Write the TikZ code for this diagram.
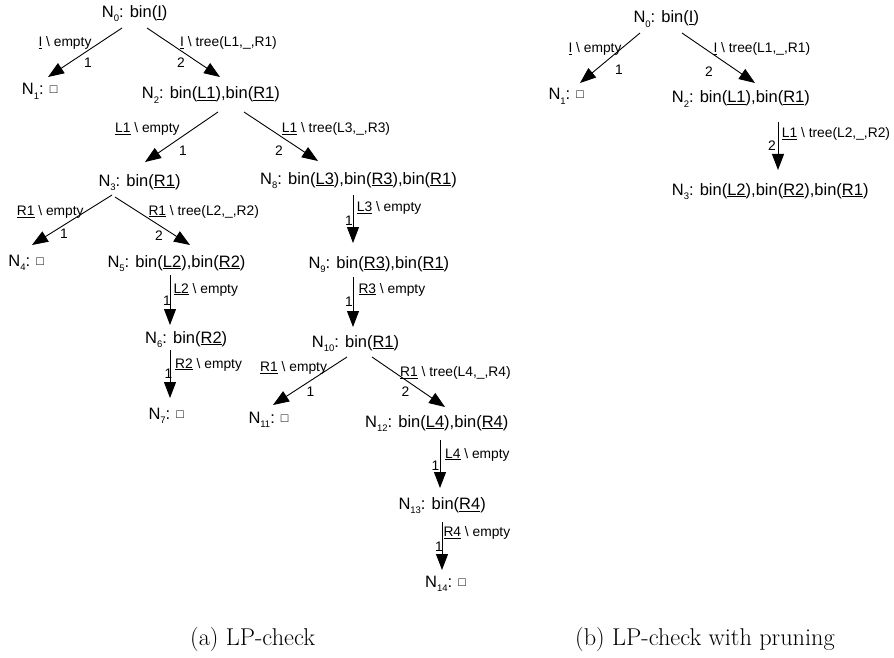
\documentclass[tikz,border=0pt]{standalone}
\usepackage{fontspec}
\setsansfont{Liberation Sans}
\usepackage{tikz}
\usetikzlibrary{arrows.meta}
\newcommand{\Nd}[1]{N\raisebox{-4.4pt}{\fontsize{9.5}{9.5}\selectfont #1}}
\newcommand{\bs}{\textbackslash}
\newcommand{\sq}{\raisebox{1pt}{\fontsize{12.5}{12.5}\selectfont □}}

\begin{document}
\begin{tikzpicture}[
  x=1pt, y=-1pt,
  state/.style={font=\sffamily\fontsize{16.5}{18}\selectfont, inner sep=0pt, anchor=base west},
  lbl/.style={font=\sffamily\fontsize{13.8}{15}\selectfont, inner sep=0pt, anchor=base west},
  arrow/.style={-{Triangle[length=16pt,width=12pt]}, line width=0.9pt},
  subcap/.style={font=\fontsize{24.3}{28}\selectfont, inner sep=0pt, anchor=base west},
]
  \useasboundingbox (0,0) rectangle (894,658);

  \node[state] (n0) at (101.7,17.5) {\Nd{0}: bin(\underline{I})};
  \node[state] (n1) at (21.7,95) {\Nd{1}: \sq};
  \node[state] (n2) at (141.7,99) {\Nd{2}: bin(\underline{L1}),bin(\underline{R1})};
  \node[state] (n3) at (98.3,186) {\Nd{3}: bin(\underline{R1})};
  \node[state] (n8) at (260,184) {\Nd{8}: bin(\underline{L3}),bin(\underline{R3}),bin(\underline{R1})};
  \node[state] (n4) at (8.3,266) {\Nd{4}: \sq};
  \node[state] (n5) at (107.3,267) {\Nd{5}: bin(\underline{L2}),bin(\underline{R2})};
  \node[state] (n9) at (308.3,268) {\Nd{9}: bin(\underline{R3}),bin(\underline{R1})};
  \node[state] (n6) at (145,343) {\Nd{6}: bin(\underline{R2})};
  \node[state] (n10) at (311.7,347) {\Nd{10}: bin(\underline{R1})};
  \node[state] (n7) at (148.3,419) {\Nd{7}: \sq};
  \node[state] (n11) at (248.3,423) {\Nd{11}: \sq};
  \node[state] (n12) at (365,427) {\Nd{12}: bin(\underline{L4}),bin(\underline{R4})};
  \node[state] (n13) at (398.3,509.5) {\Nd{13}: bin(\underline{R4})};
  \node[state] (n14) at (425,587.5) {\Nd{14}: \sq};

  \node[state] (r0) at (633.3,23) {\Nd{0}: bin(\underline{I})};
  \node[state] (r1) at (548.3,100) {\Nd{1}: \sq};
  \node[state] (r2) at (671.7,103) {\Nd{2}: bin(\underline{L1}),bin(\underline{R1})};
  \node[state] (r3) at (671.7,195) {\Nd{3}: bin(\underline{L2}),bin(\underline{R2}),bin(\underline{R1})};

  \draw[arrow] ([shift={(20.3,10.5)}]n0.base west) -- ([shift={(26.3,-18)}]n1.base west);
  \draw[arrow] ([shift={(45.3,10.5)}]n0.base west) -- ([shift={(78.3,-22)}]n2.base west);
  \draw[arrow] ([shift={(76.3,13)}]n2.base west) -- ([shift={(46.7,-24)}]n3.base west);
  \draw[arrow] ([shift={(102.3,13)}]n2.base west) -- ([shift={(58,-23)}]n8.base west);
  \draw[arrow] ([shift={(13.7,9)}]n3.base west) -- ([shift={(23.7,-21)}]n4.base west);
  \draw[arrow] ([shift={(16.7,11)}]n3.base west) -- ([shift={(82.7,-22)}]n5.base west);
  \draw[arrow] ([shift={(62.7,8)}]n5.base west) -- ([shift={(25,-18)}]n6.base west);
  \draw[arrow] ([shift={(25,7)}]n6.base west) -- ([shift={(21.7,-21)}]n7.base west);
  \draw[arrow] ([shift={(93,11)}]n8.base west) -- ([shift={(44.7,-25)}]n9.base west);
  \draw[arrow] ([shift={(44.7,9)}]n9.base west) -- ([shift={(41.3,-20)}]n10.base west);
  \draw[arrow] ([shift={(35.3,10)}]n10.base west) -- ([shift={(24.7,-18)}]n11.base west);
  \draw[arrow] ([shift={(60.3,10)}]n10.base west) -- ([shift={(80,-20)}]n12.base west);
  \draw[arrow] ([shift={(75,13)}]n12.base west) -- ([shift={(41.7,-21.5)}]n13.base west);
  \draw[arrow] ([shift={(43.7,12.5)}]n13.base west) -- ([shift={(17,-17.5)}]n14.base west);

  \draw[arrow] ([shift={(6.7,10)}]r0.base west) -- ([shift={(31.7,-17)}]r1.base west);
  \draw[arrow] ([shift={(48.7,10)}]r0.base west) -- ([shift={(83.3,-20)}]r2.base west);
  \draw[arrow] ([shift={(106.3,19)}]r2.base west) -- ([shift={(106.3,-25)}]r3.base west);

  \node[lbl] (e01) at (38.3,47) {\underline{I} \bs{} empty};
  \node[lbl] (k01) at (84,67.5) {1};
  \node[lbl] (e02) at (180,47) {\underline{I} \bs{} tree(L1,\_,R1)};
  \node[lbl] (k02) at (177,67.5) {2};
  \node[lbl] (e23) at (115,133) {\underline{L1} \bs{} empty};
  \node[lbl] (k23) at (179,155) {1};
  \node[lbl] (e28) at (281.7,133) {\underline{L1} \bs{} tree(L3,\_,R3)};
  \node[lbl] (k28) at (275,155) {2};
  \node[lbl] (e34) at (16.7,215.5) {\underline{R1} \bs{} empty};
  \node[lbl] (k34) at (60,238) {1};
  \node[lbl] (e35) at (148.3,215) {\underline{R1} \bs{} tree(L2,\_,R2)};
  \node[lbl] (k35) at (155,240) {2};
  \node[lbl] (e56) at (173.3,293) {\underline{L2} \bs{} empty};
  \node[lbl] (k56) at (163,305) {1};
  \node[lbl] (e67) at (175,368) {\underline{R2} \bs{} empty};
  \node[lbl] (k67) at (164.5,378) {1};
  \node[lbl] (e89) at (356.7,211.5) {\underline{L3} \bs{} empty};
  \node[lbl] (k89) at (345,225) {1};
  \node[lbl] (e910) at (358.3,293) {\underline{R3} \bs{} empty};
  \node[lbl] (k910) at (345,306.5) {1};
  \node[lbl] (e1011) at (260,371.5) {\underline{R1} \bs{} empty};
  \node[lbl] (k1011) at (306.5,396.5) {1};
  \node[lbl] (e1012) at (400,376.5) {\underline{R1} \bs{} tree(L4,\_,R4)};
  \node[lbl] (k1012) at (401.5,396.5) {2};
  \node[lbl] (e1213) at (445,458) {\underline{L4} \bs{} empty};
  \node[lbl] (k1213) at (431.5,470) {1};
  \node[lbl] (e1314) at (443.3,536.5) {\underline{R4} \bs{} empty};
  \node[lbl] (k1314) at (435,551.5) {1};

  \node[lbl] (f01) at (568.3,53) {\underline{I} \bs{} empty};
  \node[lbl] (j01) at (615,75) {1};
  \node[lbl] (f02) at (713.3,53) {\underline{I} \bs{} tree(L1,\_,R1)};
  \node[lbl] (j02) at (705,76.5) {2};
  \node[lbl] (f23) at (781.7,138) {\underline{L1} \bs{} tree(L2,\_,R2)};
  \node[lbl] (j23) at (768,150) {2};

  \node[subcap] (capa) at (190,645) {(a) LP-check};
  \node[subcap] (capb) at (575,645) {(b) LP-check with pruning};
\end{tikzpicture}
\end{document}
